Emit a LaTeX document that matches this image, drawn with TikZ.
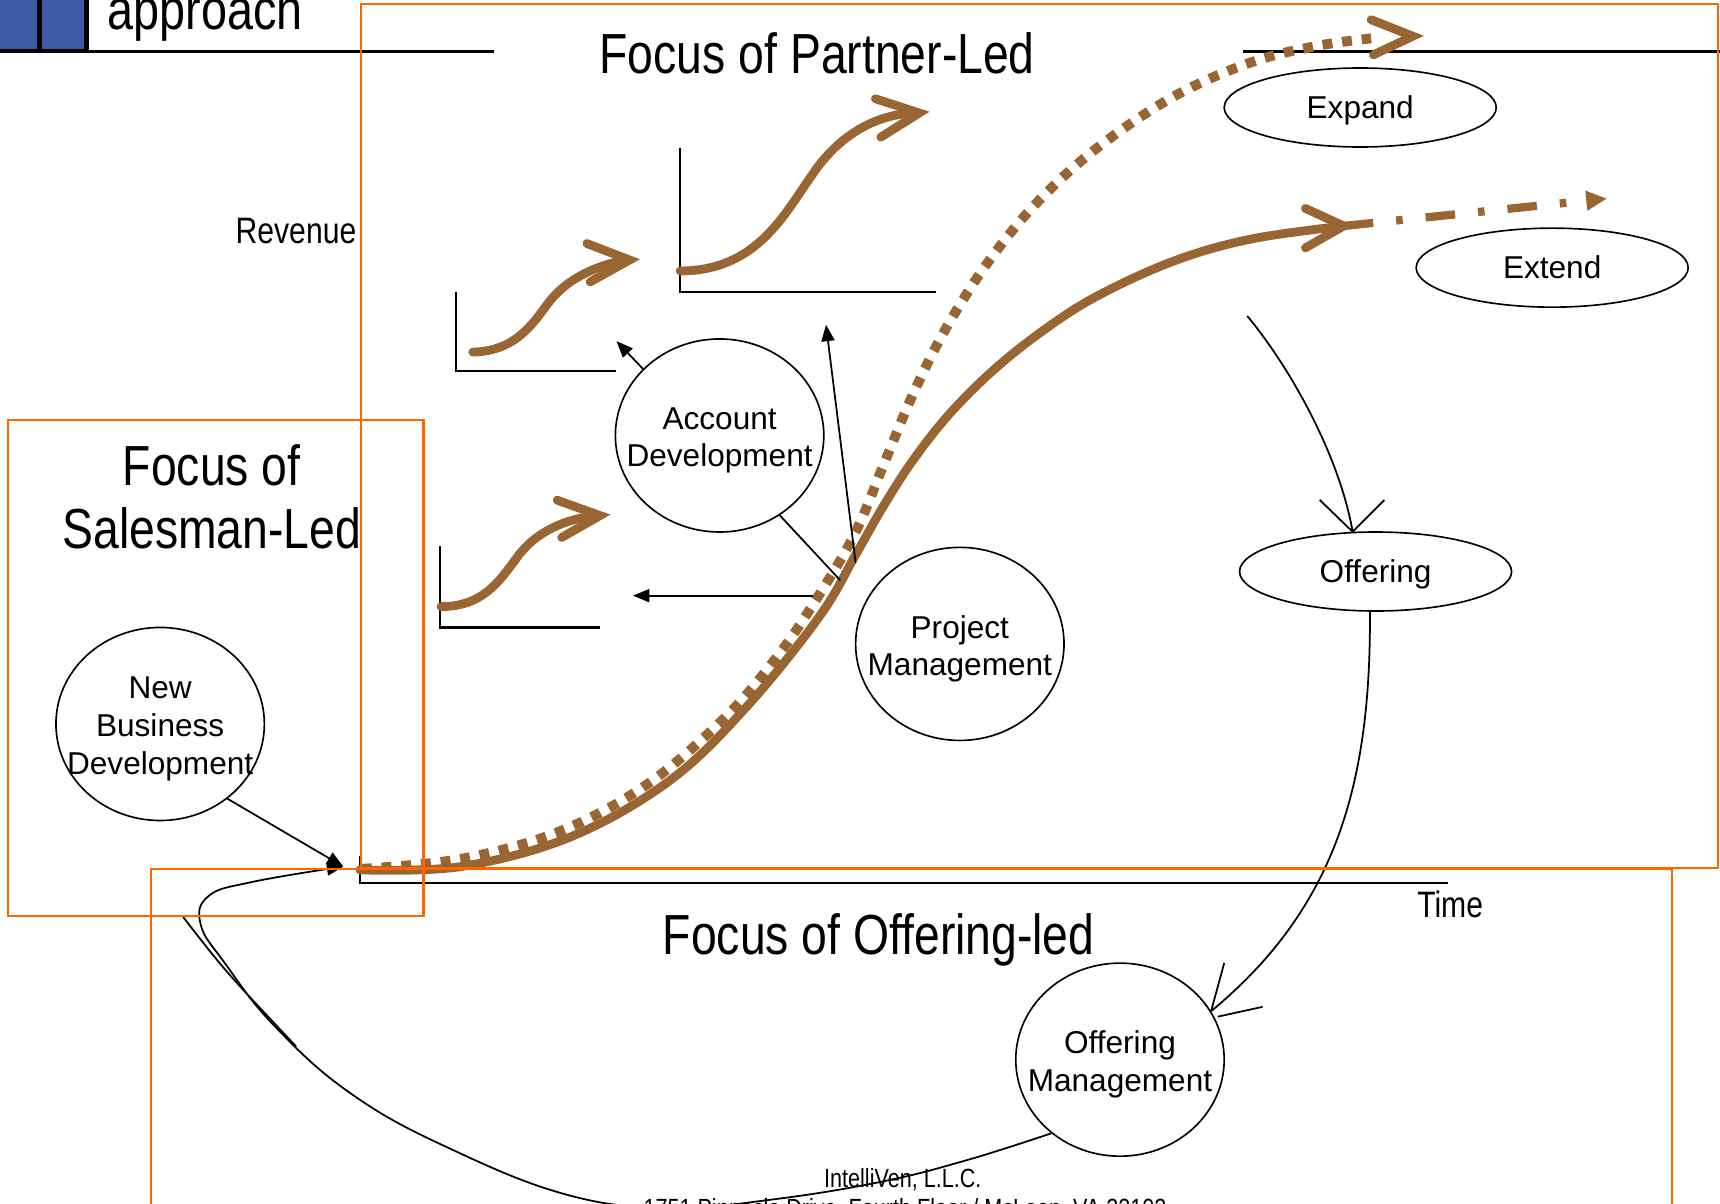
\documentclass[tikz,border=0pt]{standalone}
\usepackage{fontspec}
\setmainfont{Liberation Sans}
\newfontfamily\narrowfont[FakeStretch=0.82]{Liberation Sans}
\usetikzlibrary{arrows.meta,shapes.geometric,calc}
\definecolor{brownc}{RGB}{153,102,51}
\definecolor{orangec}{RGB}{255,102,0}
\definecolor{bluec}{RGB}{59,91,165}
\newcommand{\nfont}{\fontsize{28.8}{34.5}\selectfont}
\newcommand{\tfont}{\narrowfont\fontsize{51.5}{58}\selectfont}
\newcommand{\lfont}{\narrowfont\fontsize{33.5}{40}\selectfont}
\newcommand{\smfont}{\narrowfont\fontsize{24}{28}\selectfont}
\begin{document}
\begin{tikzpicture}[x=1pt,y=-1pt,
  bubble/.style={draw,line width=1.5pt,ellipse,minimum width=190pt,minimum height=176pt,inner sep=0pt},
  blabel/.style={font=\nfont,align=center,inner sep=0pt,text depth=0pt,yshift=-1.5pt},
  oval/.style={draw,line width=1.5pt,ellipse,minimum width=248pt,minimum height=72pt,inner sep=0pt,font=\nfont,text height=20.6pt,text depth=0pt},
  thin/.style={line width=1.6pt},
  tri/.style={-{Triangle[length=15pt,width=12pt]}},
  brownline/.style={draw=brownc,line width=8pt,line cap=round,line join=round},
  chev/.style={draw=brownc,line width=8pt,line cap=round,line join=miter},
  frame/.style={draw=orangec,line width=2pt},
  titletext/.style={font=\tfont,inner sep=0pt},
  labeltext/.style={font=\lfont,inner sep=0pt},
  axis/.style={line width=2pt}]
\useasboundingbox (0,0) rectangle (1568,1097);

% header
\fill (0,0) rectangle (81,46);
\fill[bluec] (0,0) rectangle (34,45);
\fill[bluec] (38,0) rectangle (77,45);
\draw[line width=3.5pt] (0,47) -- (450,47);
\draw[line width=3.5pt] (1133,47) -- (1568,47);
\node[titletext,font=\narrowfont\fontsize{52}{58}\selectfont,anchor=base west] (appr) at (98,27) {approach};

% titles and labels
\node[titletext,anchor=base] (tpl) at (745,67) {Focus of Partner-Led};
\node[titletext,align=center] (tsl) at (193,453) {Focus of\\Salesman-Led};
\node[titletext,anchor=base] (tol) at (801,870) {Focus of Offering-led};
\node[labeltext,anchor=base east] (rev) at (325,222) {Revenue};
\node[labeltext,anchor=base] (time) at (1322,836) {Time};
\node[font=\smfont,inner sep=0pt,anchor=base] (corp) at (823,1083) {IntelliVen, L.L.C.};
\node[font=\smfont,inner sep=0pt,anchor=base] (addr) at (825,1110) {1751 Pinnacle Drive, Fourth Floor / McLean, VA 22102};

% main axes
\draw[axis] (328,780) -- (328,805) -- (1320,805);

% small charts
\draw[axis] (416,266) -- (416,338) -- (562,338);
\draw[brownline] (431,321) .. controls (470,320) and (485,296) .. (500,276) .. controls (515,256) and (540,243) .. (570,237);
\draw[chev] (535,222) -- (574,237) -- (538,257);

\draw[axis] (620,135) -- (620,266) -- (853,266);
\draw[brownline] (620,247) .. controls (690,247) and (715,195) .. (740,160) .. controls (765,122) and (800,104) .. (834,103);
\draw[chev] (798,90) -- (838,103) -- (803,125);

\draw[axis] (401,498) -- (401,572) -- (547,572);
\draw[brownline] (402,553) .. controls (440,553) and (455,530) .. (470,510) .. controls (485,488) and (510,474) .. (543,470);
\draw[chev] (508,456) -- (547,470) -- (512,490);

% main curves
\draw[draw=brownc,line width=9pt,dash pattern=on 9pt off 9pt] plot[smooth,tension=0.6] coordinates {(330,792) (420,783) (510,758) (590,715) (660,655) (705,603) (738,556) (778,489) (805,425) (832,360) (862,300) (900,240) (945,185) (1000,135) (1070,88) (1140,57) (1200,42) (1250,35)};
\draw[chev] (1250,18) -- (1288,33) -- (1252,50);

\coordinate (mt) at (1225,206);
\draw[brownline] plot[smooth,tension=0.6] coordinates {(328,793) (420,790) (520,763) (610,712) (680,645) (747,562) (781,504) (805,462) (832,420) (865,378) (905,338) (950,302) (1000,270) (1070,238) (1140,218) (mt)};
\draw[chev] (1190,190) -- (mt) -- (1190,226);
\draw[color=brownc,line width=7.5pt,dash pattern=on 27pt off 21pt on 6pt off 21pt,-{Triangle[length=19pt,width=17pt]}] (mt) -- (1465,181);

% bubbles
\node[bubble,label={[blabel]center:{Account\\Development}}] (ad) at (656,397) {};
\node[bubble,label={[blabel]center:{Project\\Management}}] (pm) at (875,587) {};
\node[bubble,label={[blabel]center:{New\\Business\\Development}}] (nbd) at (146,660) {};
\node[bubble,label={[blabel]center:{Offering\\Management}}] (om) at (1021,966) {};
\node[oval] (exp) at (1240,98) {Expand};
\node[oval] (ext) at (1415,244) {Extend};
\node[oval] (ofr) at (1254,521) {Offering};

% connectors
\coordinate (t1) at (562,311);
\draw[thin,tri] (ad.139) -- (t1);
\coordinate (cr1) at (766,529);
\draw[thin] (ad.-53) -- (cr1);
\coordinate (cr2) at (780,513);
\coordinate (t2) at (753,296);
\draw[thin,tri] (cr2) -- (t2);
\coordinate (cr3) at (741,543);
\coordinate (t3) at (577,543);
\draw[thin,tri] (cr3) -- (t3);

\coordinate (tipL) at (313,790);
\draw[thin,tri] (nbd.-48) -- (tipL);
\draw[thin,tri] plot[smooth,tension=0.7] coordinates {(om.-133) (880,1058) (800,1078) (700,1094) (615,1101) (520,1090) (410,1047) (320,997) (250,935) (205,878) (183,843) (190,817) (230,804) (tipL)};
\coordinate (s1) at (167,836);
\coordinate (s2) at (270,954);
\draw[thin] (s1) .. controls (205,885) .. (s2);

\coordinate (c1) at (1137,288);
\draw[thin] (c1) .. controls (1180,340) and (1222,420) .. (ofr.120);
\draw[thin] ($(ofr.120)+(-30,-29)$) -- (ofr.120) -- ($(ofr.120)+(29,-29)$);

\draw[thin] (ofr.-98) .. controls (1250,720) and (1215,830) .. (om.28);
\draw[thin] ($(om.28)+(12,-44)$) -- (om.28);
\draw[thin] ($(om.28)+(6,5)$) -- ($(om.28)+(47,-4)$);

% orange frames
\draw[frame] (329,4) rectangle (1566,791);
\draw[frame] (7,383) rectangle (386,835);
\draw[frame] (138,792) rectangle (1524,1130);
\end{tikzpicture}
\end{document}
